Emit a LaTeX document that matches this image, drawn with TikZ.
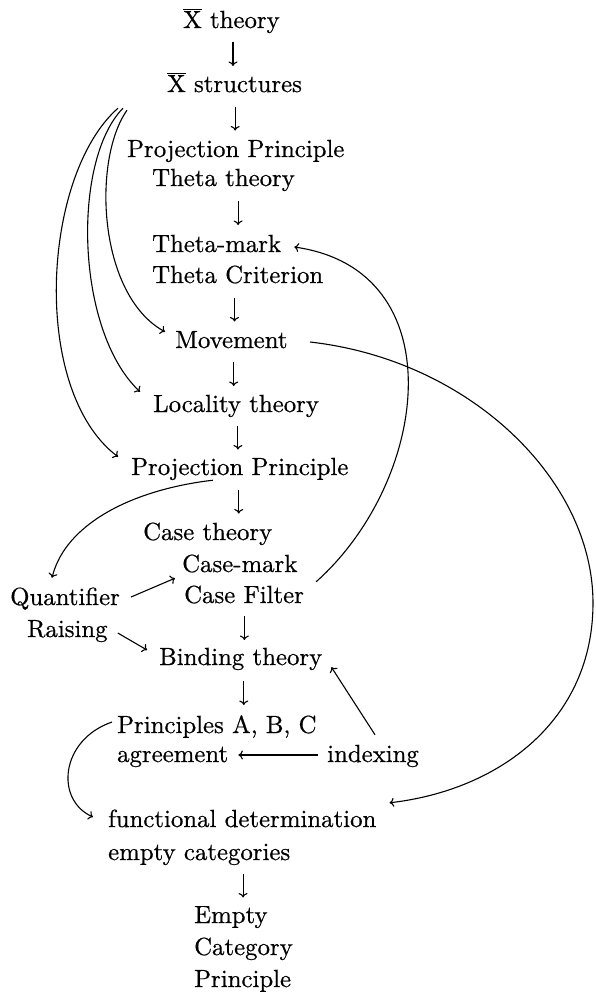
\documentclass[tikz,border=0pt]{standalone}
\usepackage{fontspec}
\setmainfont{lmroman10-regular.otf}[FakeBold=0.6]
\usetikzlibrary{arrows.meta,calc}

\tikzset{
  lbl/.style={inner sep=0pt, anchor=base west, text height=17pt, text depth=5pt,
              font=\fontsize{24.8}{29}\selectfont},
  link/.style={line width=1.1pt, -{To[length=4.5pt,width=9pt]}},
  dn/.style={link},
}

% X with a bar over it
\newcommand\xbar{$\overline{\mathrm{X}}$}

% short downward arrow centred in the gap between two stacked nodes
\newcommand\vlink[3][0]{\draw[dn] ($(#2.south)!.5!(#3.north)+(#1,-12)$) -- ++(0,24);}

\begin{document}
\begin{tikzpicture}[x=1pt,y=-1pt]
\useasboundingbox (0,0) rectangle (596,994);

% main column
\node[lbl] (xt)  at (183,28)  {\xbar\ theory};
\node[lbl] (xs)  at (167,92)  {\xbar\ structures};
\node[lbl] (pp1) at (127,157) {Projection Principle};
\node[lbl] (tt)  at (152,186) {Theta theory};
\node[lbl] (tm)  at (152,252) {Theta-mark};
\node[lbl] (tc)  at (152,283) {Theta Criterion};
\node[lbl] (mv)  at (175,348) {Movement};
\node[lbl] (lt)  at (153,412) {Locality theory};
\node[lbl] (pp2) at (131,475) {Projection Principle};
\node[lbl] (ct)  at (143,540) {Case theory};
\node[lbl] (cm)  at (182,572) {Case-mark};
\node[lbl] (cf)  at (184,603) {Case Filter};
\node[lbl] (qf)  at (10,605)  {Quantifier};
\node[lbl] (rs)  at (27,637)  {Raising};
\node[lbl] (bt)  at (159,665) {Binding theory};
\node[lbl] (pa)  at (117,733) {Principles A, B, C};
\node[lbl] (ag)  at (117,762) {agreement};
\node[lbl] (ix)  at (327,762) {indexing};
\node[lbl] (fd)  at (108,827) {functional determination};
\node[lbl] (ec)  at (108,860) {empty categories};
\node[lbl] (em)  at (194,923) {Empty};
\node[lbl] (ca)  at (194,955) {Category};
\node[lbl] (pr)  at (194,987) {Principle};

% vertical chain
\vlink{xt}{xs}
\vlink{xs}{pp1}
\vlink[18]{tt}{tm}
\vlink{tc}{mv}
\vlink{mv}{lt}
\vlink{lt}{pp2}
\vlink[15]{pp2}{ct}
\vlink[2]{cf}{bt}
\vlink[15]{bt}{pa}
\vlink[28]{ec}{em}

% three arcs fanning out from the X-bar structures
\draw[link] ($(xs.south west)+(-40,13)$) .. controls (92,160) and (98,295) .. ($(mv.north west)+(-10,1)$);
\draw[link] ($(xs.south west)+(-44,11)$) .. controls (72,160) and (75,330) .. ($(lt.north west)+(-13,-3)$);
\draw[link] ($(xs.south west)+(-49,11)$) .. controls (42,175) and (30,390) .. ($(pp2.north west)+(-13,-1)$);

% Case Filter back up to Theta-mark
\draw[link] ($(cf.north east)+(12,-4)$) .. controls (430,480) and (455,270) .. ($(tm.east)+(13,1)$);

% Movement round to functional determination
\draw[link] ($(mv.west)+(135,0)$) .. controls (470,360) and (593,480) .. (593,603)
  .. controls (593,720) and (500,790) .. ($(fd.north east)+(13,-7)$);

% Projection Principle down to Quantifier Raising
\draw[link] ($(pp2.south)+(-27,0)$) .. controls (130,490) and (65,525) .. ($(qf.north)+(-13,-10)$);

% Quantifier Raising links
\draw[link] ($(qf.east)+(11,-2)$) -- ($(cm.south west)+(-7,1)$);
\draw[link] ($(rs.east)+(10,2)$) -- ($(bt.west)+(-12,-9)$);

% indexing links
\draw[link] ($(ix.west)+(-9,-1)$) -- ($(ag.east)+(10,-1)$);
\draw[link] ($(ix.north)+(2,-10)$) -- ($(bt.south east)+(9,-3)$);

% Principles A, B, C round to functional determination
\draw[link] ($(pa.west)+(-5,-5)$) .. controls (60,740) and (55,800) .. ($(fd.west)+(-15,-4)$);
\end{tikzpicture}
\end{document}
